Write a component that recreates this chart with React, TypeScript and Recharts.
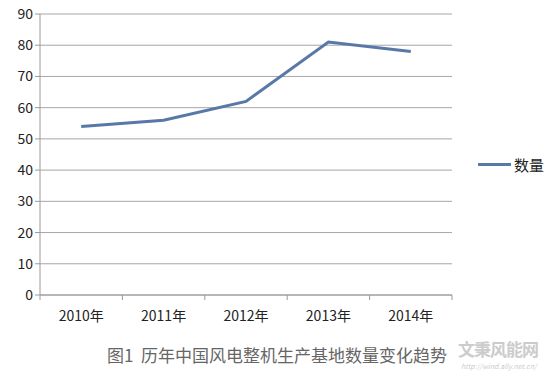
import { LineChart, Line, XAxis, YAxis, CartesianGrid } from "recharts";

const years = ["2010年", "2011年", "2012年", "2013年", "2014年"];
const counts = [54, 56, 62, 81, 78];
const yTicks = [0, 10, 20, 30, 40, 50, 60, 70, 80, 90];
const seriesName = "数量";

const data = years.map((year, i) => ({ year, [seriesName]: counts[i] }));

const W = 549;
const H = 379;
const X_H = 30;
const M = { top: 14, right: 97, bottom: 84 - X_H, left: 0 };
const Y_W = 40;
const band = (W - M.left - M.right - Y_W) / years.length;

const FONT = "'Noto Sans CJK SC', 'Noto Sans', sans-serif";

function YearTick(props: any) {
  const { x, y, payload, index } = props;
  return (
    <g>
      <line x1={x - band / 2} y1={y - 8} x2={x - band / 2} y2={y - 3} stroke="#9a9a9a" />
      {index === years.length - 1 && (
        <line x1={x + band / 2} y1={y - 8} x2={x + band / 2} y2={y - 3} stroke="#9a9a9a" />
      )}
      <text x={x} y={y + 18} textAnchor="middle" fontSize={14} fill="#222" fontFamily={FONT}>
        {payload.value}
      </text>
    </g>
  );
}

export default function App() {
  return (
    <div style={{ position: "absolute", left: 0, top: 0, width: W, height: H, background: "#fff" }}>
      <LineChart width={W} height={H} data={data} margin={M}>
        <CartesianGrid vertical={false} stroke="#a6a6a6" strokeWidth={1} />
        <XAxis
          dataKey="year"
          height={X_H}
          stroke="#9a9a9a"
          tickLine={false}
          tick={<YearTick />}
          interval={0}
          padding={{ left: band / 2, right: band / 2 }}
        />
        <YAxis
          width={Y_W}
          domain={[0, 90]}
          ticks={yTicks}
          interval={0}
          stroke="#9a9a9a"
          tickSize={5}
          tick={{ fontSize: 14, fill: "#222", fontFamily: FONT }}
        />
        <Line
          type="linear"
          dataKey={seriesName}
          stroke="#5878a8"
          strokeWidth={3}
          dot={false}
          isAnimationActive={false}
        />
      </LineChart>
      <div
        style={{
          position: "absolute",
          left: 478,
          top: 154,
          display: "flex",
          alignItems: "center",
          fontFamily: FONT,
          fontSize: 15,
          color: "#222",
        }}
      >
        <span style={{ display: "inline-block", width: 33, height: 3, background: "#5878a8", marginRight: 3 }} />
        {seriesName}
      </div>
      <div
        style={{
          position: "absolute",
          left: 107,
          top: 342,
          fontFamily: FONT,
          fontSize: 17,
          color: "#666",
          whiteSpace: "pre",
        }}
      >
        {"图1  历年中国风电整机生产基地数量变化趋势"}
      </div>
      <div style={{ position: "absolute", left: 458, top: 336, fontFamily: FONT, fontSize: 17, color: "#ccc", fontWeight: 700, letterSpacing: -1 }}>
        文秉风能网
      </div>
      <div style={{ position: "absolute", left: 461, top: 361, fontFamily: FONT, fontSize: 7, color: "#ccc", fontStyle: "italic" }}>
        http://wind.ally.net.cn/
      </div>
    </div>
  );
}
